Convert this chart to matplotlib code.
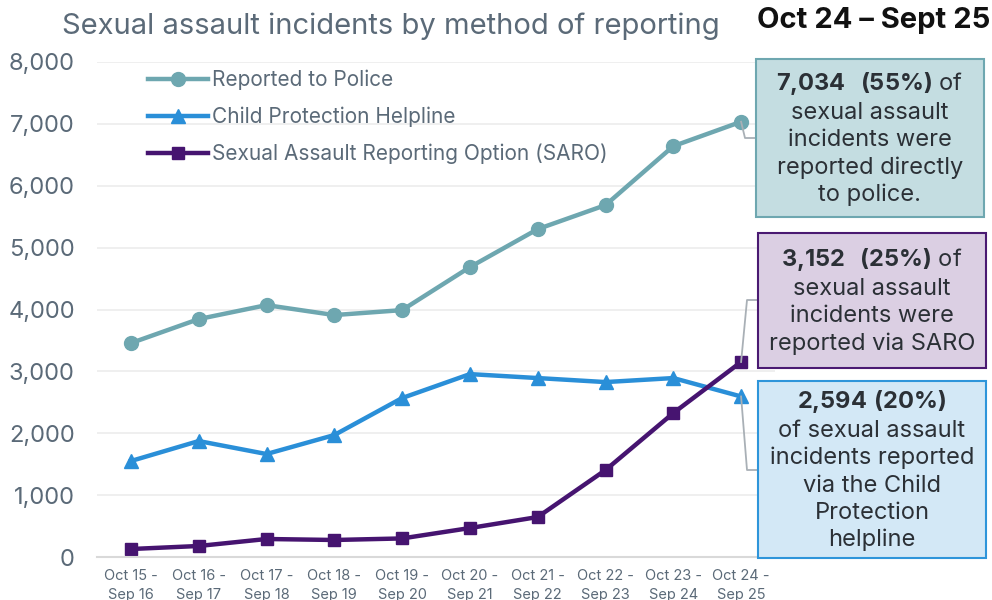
import matplotlib
matplotlib.use("Agg")
import matplotlib.pyplot as plt
from matplotlib.patches import Rectangle
from matplotlib.lines import Line2D
from matplotlib.transforms import IdentityTransform

plt.rcParams['font.family'] = ['Inter', 'DejaVu Sans']
plt.rcParams['mathtext.fontset'] = 'custom'
plt.rcParams['mathtext.rm'] = 'Inter'
plt.rcParams['mathtext.bf'] = 'Inter:bold'

# --- data ---
periods = ['Oct 15 -\nSep 16', 'Oct 16 -\nSep 17', 'Oct 17 -\nSep 18', 'Oct 18 -\nSep 19',
           'Oct 19 -\nSep 20', 'Oct 20 -\nSep 21', 'Oct 21 -\nSep 22', 'Oct 22 -\nSep 23',
           'Oct 23 -\nSep 24', 'Oct 24 -\nSep 25']
police = [3457, 3845, 4071, 3910, 3990, 4685, 5299, 5687, 6640, 7034]
helpline = [1551, 1874, 1664, 1971, 2569, 2956, 2892, 2827, 2892, 2594]
saro = [129, 178, 291, 275, 300, 468, 646, 1405, 2326, 3152]

labels = ['Reported to Police', 'Child Protection Helpline',
          'Sexual Assault Reporting Option (SARO)']
yticks = [0, 1000, 2000, 3000, 4000, 5000, 6000, 7000, 8000]

c_police = '#6ea7b0'
c_help = '#2a8fd8'
c_saro = '#461470'
c_grey = '#5b6a78'
c_text = '#2b3036'

W, H = 992, 600
fig = plt.figure(figsize=(W / 100, H / 100), dpi=100)
ax = fig.add_axes([97 / W, 1 - 557 / H, (775 - 97) / W, (557 - 62) / H])

x = list(range(len(periods)))
ax.plot(x, police, color=c_police, lw=3.2, marker='o', ms=10, label=labels[0])
ax.plot(x, helpline, color=c_help, lw=3.2, marker='^', ms=10, label=labels[1])
ax.plot(x, saro, color=c_saro, lw=3.2, marker='s', ms=9, label=labels[2])

ax.set_xlim(-0.5, len(periods) - 0.5)
ax.set_ylim(0, 8000)
ax.set_yticks(yticks)
ax.set_yticklabels([f'{v:,}' for v in yticks])
ax.set_xticks(x)
ax.set_xticklabels(periods)
ax.tick_params(axis='y', length=0, pad=16, labelsize=17, labelcolor=c_grey)
ax.tick_params(axis='x', length=0, pad=9, labelsize=10.5, labelcolor=c_grey)
for lbl in ax.get_xticklabels():
    lbl.set_linespacing(1.45)
ax.grid(axis='y', color='#ececec', lw=1.2)
ax.set_axisbelow(True)
for s in ['top', 'right', 'left']:
    ax.spines[s].set_visible(False)
ax.spines['bottom'].set_color('#d9d9d9')
ax.spines['bottom'].set_linewidth(1.5)

leg = ax.legend(loc='upper left', bbox_to_anchor=(148 / W, 1 - 70 / H),
                bbox_transform=fig.transFigure, frameon=False, fontsize=15,
                handlelength=2.9, handletextpad=0.15, labelspacing=0.78,
                borderaxespad=0, borderpad=0)
for t in leg.get_texts():
    t.set_color(c_grey)

fig.text(62 / W, 1 - 26 / H, 'Sexual assault incidents by method of reporting',
         fontsize=21, color=c_grey, va='center', ha='left')
fig.text(990 / W, 1 - 21 / H, 'Oct 24 \u2013 Sept 25', fontsize=21,
         fontweight='bold', color='#111111', va='center', ha='right')

# --- annotation boxes (pixel coords, top-left origin) ---
boxes = [
    (756, 59, 984, 217, '#c4dde1', '#6ea7b0',
     '$\\mathbf{7{,}034\\ \\ (55\\%)}$ of\nsexual assault\nincidents were\nreported directly\nto police.'),
    (758, 233, 986, 368, '#dbcfe3', '#4a1a72',
     '$\\mathbf{3{,}152\\ \\ (25\\%)}$ of\nsexual assault\nincidents were\nreported via SARO'),
    (758, 381, 986, 558, '#d3e8f6', '#2e95da',
     '$\\mathbf{2{,}594\\ (20\\%)}$\nof sexual assault\nincidents reported\nvia the Child\nProtection\nhelpline'),
]
for x0, y0, x1, y1, fc, ec, txt in boxes:
    fig.add_artist(Rectangle((x0 / W, 1 - y1 / H), (x1 - x0) / W, (y1 - y0) / H,
                             transform=fig.transFigure, facecolor=fc, edgecolor=ec,
                             lw=1.5, zorder=3))
    fig.text((x0 + x1) / 2 / W, 1 - (y0 + y1) / 2 / H, txt, ha='center', va='center',
             fontsize=17, color=c_text, linespacing=1.3, zorder=4)

# connectors from last points to boxes
last = len(periods) - 1
connectors = [
    (police[last], [(745, 138), (756, 138)]),
    (saro[last], [(747, 300), (758, 300)]),
    (helpline[last], [(747, 470), (758, 470)]),
]
for val, pts in connectors:
    sx, sy = ax.transData.transform((last, val))
    xs = [sx] + [p[0] for p in pts]
    ys = [sy] + [H - p[1] for p in pts]
    fig.add_artist(Line2D(xs, ys, transform=IdentityTransform(), color='#a9b0b6',
                          lw=1.3, zorder=2))

fig.savefig('out.png', dpi=100)
